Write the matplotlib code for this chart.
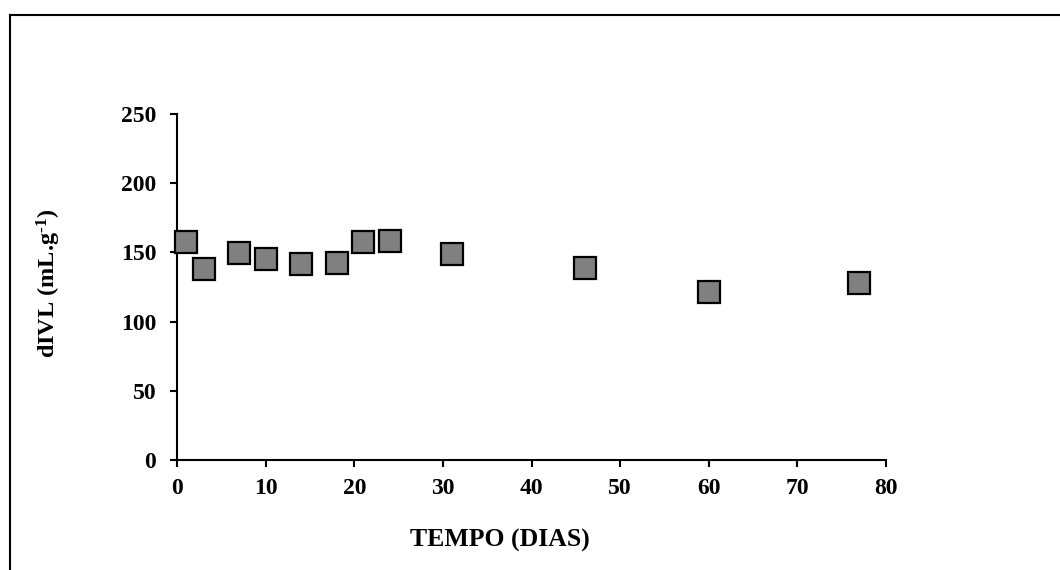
import matplotlib
matplotlib.use("Agg")
import matplotlib.pyplot as plt
from matplotlib.lines import Line2D

plt.rcParams['font.family'] = ['Liberation Serif', 'DejaVu Serif']
plt.rcParams['font.weight'] = 'bold'
plt.rcParams['mathtext.fontset'] = 'custom'
plt.rcParams['mathtext.rm'] = 'Liberation Serif:bold'
plt.rcParams['mathtext.bf'] = 'Liberation Serif:bold'
plt.rcParams['mathtext.it'] = 'Liberation Serif:bold'

dias = [1, 3, 7, 10, 14, 18, 21, 24, 31, 46, 60, 77]
divl = [157.5, 138, 149.5, 145, 141.5, 142, 157.5, 158.5, 149, 139, 121.5, 128]
xticks = [0, 10, 20, 30, 40, 50, 60, 70, 80]
yticks = [0, 50, 100, 150, 200, 250]

fig = plt.figure(figsize=(10.6, 5.7), dpi=100)
ax = fig.add_axes([177/1060, 1-460/570, (886-177)/1060, (460-114)/570])

ax.plot(dias, divl, linestyle='none', marker='s', markersize=15.5,
        markerfacecolor='#808080', markeredgecolor='black', markeredgewidth=1.6,
        clip_on=False, zorder=3)

ax.set_xlim(0, 80)
ax.set_ylim(0, 250)
ax.set_xticks(xticks)
ax.set_yticks(yticks)
ax.set_xticklabels([str(t) for t in xticks], fontsize=17, fontweight='bold')
ax.set_yticklabels([str(t) for t in yticks], fontsize=17, fontweight='bold')
for s in ['top', 'right']:
    ax.spines[s].set_visible(False)
for s in ['left', 'bottom']:
    ax.spines[s].set_linewidth(1.5)
ax.tick_params(direction='out', length=5, width=1.5)
ax.tick_params(axis='y', pad=10)
ax.tick_params(axis='x', pad=8)

fig.text(49/1060, 1-283/570, 'dIVL (mL.g$^{\\mathrm{\u2010}1}$)', rotation=90,
         ha='center', va='center', fontsize=17.5, fontweight='bold')
fig.text(500/1060, 1-540/570, 'TEMPO (DIAS)', ha='center', va='center',
         fontsize=18.5, fontweight='bold')

# figure border (top and left visible)
x0, y0 = 9.5/1060, 1-14.5/570
fig.add_artist(Line2D([x0, 1.0], [y0, y0], transform=fig.transFigure, color='black', lw=1.5))
fig.add_artist(Line2D([x0, x0], [y0, 0.0], transform=fig.transFigure, color='black', lw=1.5))

fig.savefig('out.png', dpi=100)
